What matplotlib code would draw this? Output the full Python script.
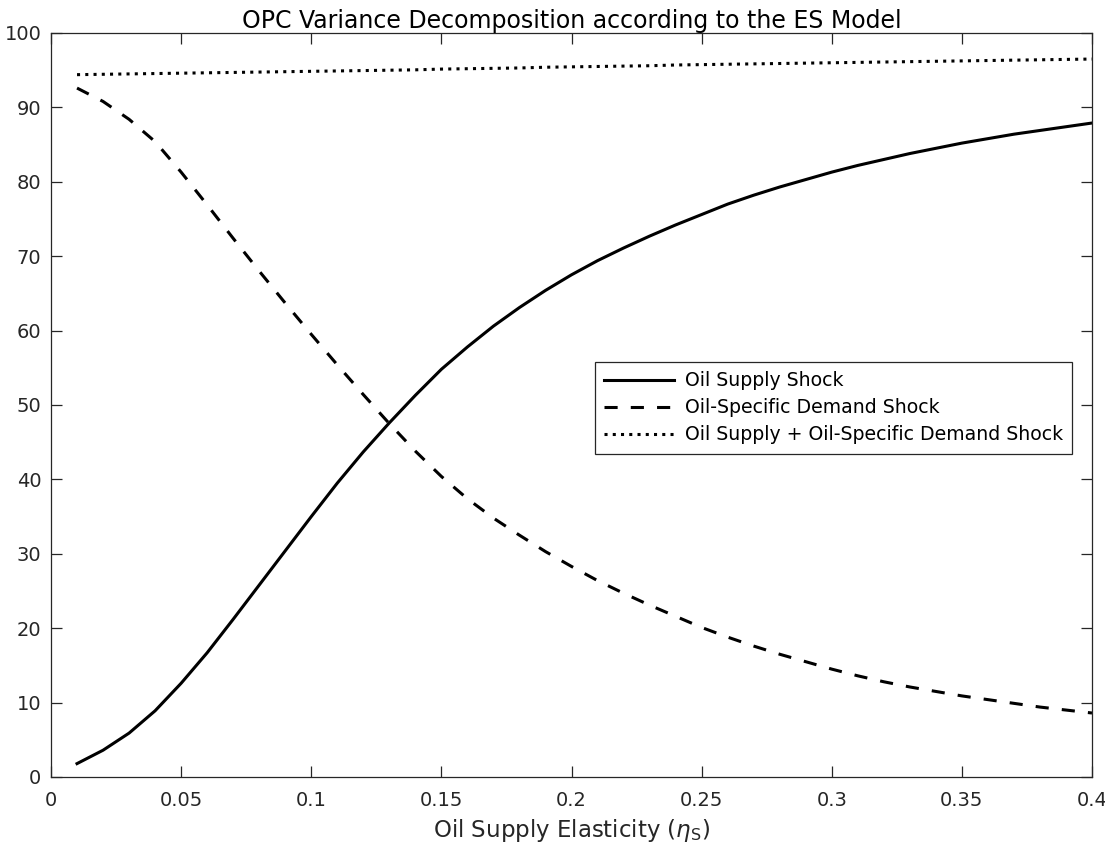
import matplotlib
matplotlib.use("Agg")
import matplotlib.pyplot as plt

# ---- data ----
eta = [0.01, 0.02, 0.03, 0.04, 0.05, 0.06, 0.07, 0.08, 0.09, 0.10,
       0.11, 0.12, 0.13, 0.14, 0.15, 0.16, 0.17, 0.18, 0.19, 0.20,
       0.21, 0.22, 0.23, 0.24, 0.25, 0.26, 0.27, 0.28, 0.29, 0.30,
       0.31, 0.32, 0.33, 0.34, 0.35, 0.36, 0.37, 0.38, 0.39, 0.40]

supply = [1.8, 3.6, 5.9, 8.9, 12.6, 16.7, 21.2, 25.8, 30.4, 35.0,
          39.5, 43.7, 47.6, 51.3, 54.8, 57.8, 60.6, 63.1, 65.4, 67.5,
          69.4, 71.1, 72.7, 74.2, 75.6, 77.0, 78.2, 79.3, 80.3, 81.3,
          82.2, 83.0, 83.8, 84.5, 85.2, 85.8, 86.4, 86.9, 87.4, 87.9]

demand = [92.6, 90.8, 88.4, 85.4, 81.3, 76.9, 72.4, 68.0, 63.7, 59.5,
          55.4, 51.4, 47.5, 43.8, 40.4, 37.4, 34.8, 32.5, 30.3, 28.3,
          26.4, 24.7, 23.1, 21.6, 20.1, 18.8, 17.6, 16.5, 15.5, 14.5,
          13.6, 12.8, 12.1, 11.5, 10.9, 10.4, 9.9, 9.4, 9.0, 8.6]

combined = [94.4, 94.45, 94.5, 94.55, 94.6, 94.65, 94.7, 94.75, 94.8, 94.85,
            94.9, 94.95, 95.0, 95.05, 95.15, 95.2, 95.25, 95.3, 95.4, 95.45,
            95.5, 95.55, 95.6, 95.7, 95.75, 95.8, 95.85, 95.9, 95.95, 96.0,
            96.05, 96.1, 96.15, 96.2, 96.25, 96.3, 96.35, 96.4, 96.45, 96.5]

series_labels = ["Oil Supply Shock",
                 "Oil-Specific Demand Shock",
                 "Oil Supply + Oil-Specific Demand Shock"]

xticks = [0, 0.05, 0.1, 0.15, 0.2, 0.25, 0.3, 0.35, 0.4]
xticklabels = ["0", "0.05", "0.1", "0.15", "0.2", "0.25", "0.3", "0.35", "0.4"]
yticks = [0, 10, 20, 30, 40, 50, 60, 70, 80, 90, 100]

title = "OPC Variance Decomposition according to the ES Model"
xlabel = r"Oil Supply Elasticity ($\eta_{\mathrm{S}}$)"

# ---- style ----
plt.rcParams['font.family'] = ['DejaVu Sans']
plt.rcParams['mathtext.fontset'] = 'dejavusans'
axis_col = '#262626'

W, H = 1105, 849
fig = plt.figure(figsize=(W / 100, H / 100), dpi=100)
ax = fig.add_axes([51 / W, 1 - 777 / H, (1092 - 51) / W, (777 - 33) / H])

lw = 2.2
ax.plot(eta, supply, color='black', lw=lw, linestyle='-', label=series_labels[0])
ax.plot(eta, demand, color='black', lw=lw, linestyle=(0, (4.3, 4.3)), label=series_labels[1])
ax.plot(eta, combined, color='black', lw=lw, linestyle=(0, (1.0, 1.7)), label=series_labels[2])

ax.set_xlim(0, 0.4)
ax.set_ylim(0, 100)
ax.set_xticks(xticks)
ax.set_xticklabels(xticklabels)
ax.set_yticks(yticks)

for s in ax.spines.values():
    s.set_color(axis_col)
    s.set_linewidth(0.9)

ax.tick_params(axis='both', which='both', direction='in', length=8, width=0.9,
               color=axis_col, labelcolor=axis_col, labelsize=14,
               top=True, right=True)
ax.tick_params(axis='x', pad=10)
ax.tick_params(axis='y', pad=7)

ax.set_title(title, fontsize=17, color='black', pad=0.5)
ax.set_xlabel(xlabel, fontsize=16.5, color=axis_col, labelpad=5)

leg = ax.legend(loc='upper left', bbox_to_anchor=(595 / W, 1 - 362 / H),
                bbox_transform=fig.transFigure, borderaxespad=0,
                fontsize=13.6, frameon=True, fancybox=False, shadow=False,
                framealpha=1, edgecolor=axis_col, handlelength=3.7,
                handletextpad=0.55, labelspacing=0.42, borderpad=0.5)
leg.get_frame().set_linewidth(0.9)

fig.savefig("out.png", dpi=100)
